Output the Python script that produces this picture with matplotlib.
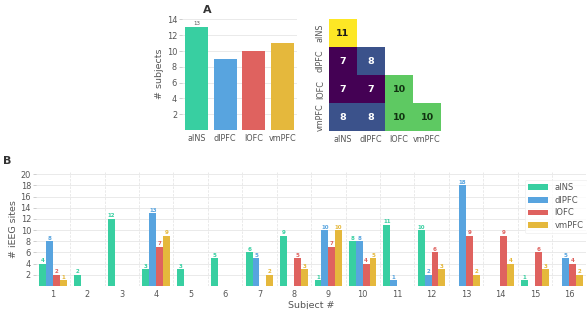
import numpy as np
import matplotlib
matplotlib.use("Agg")
import matplotlib.pyplot as plt
from matplotlib.ticker import FixedLocator

# ---- data ----
regions = ["aINS", "dlPFC", "lOFC", "vmPFC"]
colors = ["#38cfa1", "#58a4df", "#df625f", "#e5b83c"]
n_subjects = [13, 9, 10, 11]

overlap = np.array([
    [11, np.nan, np.nan, np.nan],
    [7, 8, np.nan, np.nan],
    [7, 7, 10, np.nan],
    [8, 8, 10, 10],
])

subjects = list(range(1, 17))
sites_aINS = [4, 2, 12, 3, 3, 5, 6, 9, 1, 8, 11, 10, 0, 0, 1, 0]
sites_dlPFC = [8, 0, 0, 13, 0, 0, 5, 0, 10, 8, 1, 2, 18, 0, 0, 5]
sites_lOFC = [2, 0, 0, 7, 0, 0, 0, 5, 7, 4, 0, 6, 9, 9, 6, 4]
sites_vmPFC = [1, 0, 0, 9, 0, 0, 2, 3, 10, 5, 0, 3, 2, 4, 3, 2]
sites = [sites_aINS, sites_dlPFC, sites_lOFC, sites_vmPFC]

txt = "#555555"
grid_c = "#e6e6e6"
plt.rcParams["font.family"] = "DejaVu Sans"
TICK = 5.9
LAB = 6.8

fig = plt.figure(figsize=(5.87, 3.09), dpi=100)

def style(ax):
    for s in ax.spines.values():
        s.set_visible(False)
    ax.tick_params(colors=txt, labelsize=TICK, length=2, width=0.5, color="#bbbbbb", pad=1.5)

# ---- Panel A: bar chart ----
axA = fig.add_axes([0.310, 0.579, 0.196, 0.366])
xA = np.arange(len(regions))
axA.bar(xA, n_subjects, width=0.8, color=colors, zorder=2)
for x, v in zip(xA, n_subjects):
    if v == max(n_subjects):
        axA.text(x, v + 0.1, str(v), ha="center", va="bottom", fontsize=4, color=txt)
axA.set_ylim(0, 14.3)
axA.set_xlim(-0.5, 3.5)
axA.set_yticks([2, 4, 6, 8, 10, 12, 14])
axA.set_xticks(xA)
axA.set_xticklabels(regions)
axA.set_ylabel("# subjects", fontsize=LAB, color=txt, labelpad=2)
axA.yaxis.grid(True, color=grid_c, lw=0.6, zorder=0)
axA.set_axisbelow(True)
style(axA)
axA.tick_params(axis="x", length=0, pad=3)

# ---- Panel A: heatmap ----
axH = fig.add_axes([0.5605, 0.576, 0.191, 0.3625])
cmap = plt.get_cmap("viridis")
masked = np.ma.masked_invalid(overlap)
axH.pcolormesh(np.arange(5), np.arange(5), masked, cmap=cmap, vmin=7, vmax=11)
axH.set_xlim(0, 4)
axH.set_ylim(4, 0)
for i in range(4):
    for j in range(4):
        v = overlap[i, j]
        if np.isnan(v):
            continue
        rgba = cmap((v - 7) / 4)
        lum = 0.2126 * rgba[0] + 0.7152 * rgba[1] + 0.0722 * rgba[2]
        c = "#1a1a1a" if lum > 0.4 else "white"
        if v == 10:
            c = "#113311"
        axH.text(j + 0.5, i + 0.5, f"{int(v)}", ha="center", va="center",
                 fontsize=6.8, fontweight="bold", color=c)
axH.set_xticks(np.arange(4) + 0.5)
axH.set_xticklabels(regions)
axH.set_yticks(np.arange(4) + 0.5)
axH.set_yticklabels(regions, rotation=90, va="center")
style(axH)
axH.tick_params(length=0, pad=3)

# ---- Panel B: grouped bars ----
axB = fig.add_axes([0.061, 0.0744, 0.938, 0.369])
xB = np.arange(len(subjects))
w = 0.2
for k, (name, vals, col) in enumerate(zip(regions, sites, colors)):
    pos = xB + (k - 1.5) * w
    axB.bar(pos, vals, width=w, color=col, label=name, zorder=2)
    for p, v in zip(pos, vals):
        if v > 0:
            axB.text(p, v + 0.1, str(v), ha="center", va="bottom", fontsize=4,
                     color=col, fontweight="bold")
axB.set_xlim(-0.5, 15.5)
axB.set_ylim(0, 20.4)
axB.set_yticks(range(2, 21, 2))
axB.set_xticks(xB)
axB.set_xticklabels([str(s) for s in subjects])
axB.xaxis.set_minor_locator(FixedLocator(np.arange(0.5, 15.5, 1)))
axB.yaxis.grid(True, color=grid_c, lw=0.6, zorder=0)
axB.xaxis.grid(True, which="minor", color=grid_c, lw=0.6, ls=(0, (3, 1.5)), zorder=0)
axB.set_axisbelow(True)
axB.set_ylabel("# iEEG sites", fontsize=LAB, color=txt, labelpad=2)
axB.set_xlabel("Subject #", fontsize=LAB, color=txt, labelpad=1)
style(axB)
axB.tick_params(axis="x", which="both", length=0, pad=3)
leg = axB.legend(loc="upper right", fontsize=6, frameon=True, handlelength=2.3,
                 handleheight=0.7, labelspacing=0.45, borderpad=0.4,
                 bbox_to_anchor=(1.008, 0.97))
leg.get_frame().set_edgecolor("#eeeeee")
leg.get_frame().set_linewidth(0.6)
for t in leg.get_texts():
    t.set_color(txt)

fig.text(0.345, 0.985, "A", fontsize=8, fontweight="bold", color="#333333", va="top")
fig.text(0.005, 0.495, "B", fontsize=8, fontweight="bold", color="#333333", va="top")

fig.savefig("out.png", dpi=100, facecolor="white")
